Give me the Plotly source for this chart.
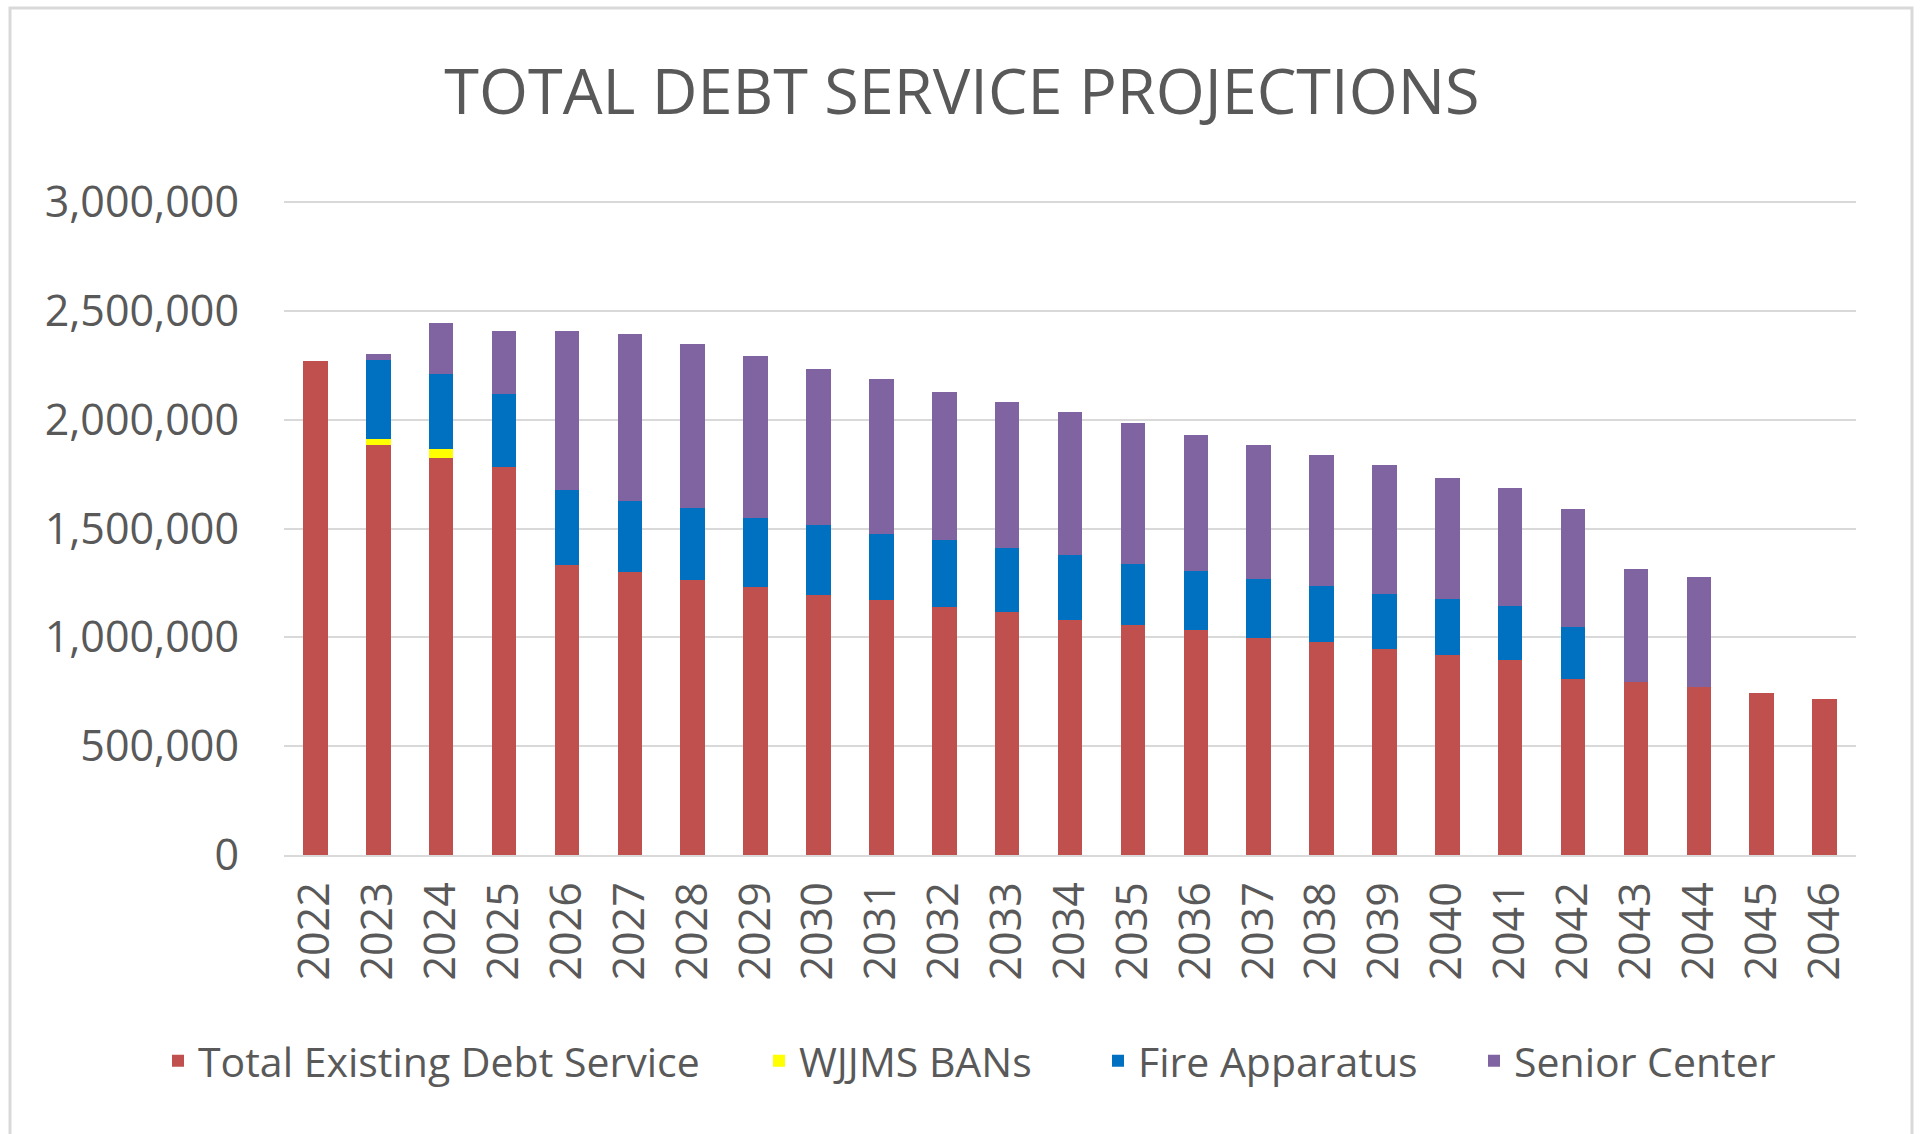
import plotly.graph_objects as go

years = [str(y) for y in range(2022, 2047)]

existing = [2270000, 1882000, 1825000, 1781000, 1333000, 1301000, 1265000, 1230000,
            1194000, 1173000, 1140000, 1116000, 1080000, 1055000, 1032000, 999000,
            977000, 948000, 917000, 894000, 810000, 795000, 772000, 742000, 719000]
wjjms = [0, 30000, 38000] + [0] * 22
fire = [0, 364000, 347000, 335000, 344000, 327000, 331000, 316000, 320000, 304000,
        305000, 295000, 298000, 283000, 272000, 269000, 258000, 252000, 257000,
        248000, 237000, 0, 0, 0, 0]
senior = [0, 27000, 233000, 290000, 729000, 767000, 753000, 746000, 720000, 711000,
          682000, 668000, 655000, 649000, 626000, 616000, 602000, 592000, 557000,
          543000, 543000, 517000, 505000, 0, 0]

series_names = ["Total Existing Debt Service", "WJJMS BANs", "Fire Apparatus", "Senior Center"]
series_vals = [existing, wjjms, fire, senior]
series_colors = ["#C0504D", "#FFFF00", "#0070C0", "#8064A2"]

tick_vals = [0, 500000, 1000000, 1500000, 2000000, 2500000, 3000000]
tick_text = ["0", "500,000", "1,000,000", "1,500,000", "2,000,000", "2,500,000", "3,000,000"]

FONT = "Open Sans"
GRAY = "#595959"
W, H = 1921, 1134
PL, PR, PT, PB = 284, 1856, 200, 855
PW, PH = PR - PL, PB - PT

legend_ids = ["legend", "legend2", "legend3", "legend4"]
legend_px = [158, 759, 1098, 1474]

fig = go.Figure()
for name, vals, col, lid in zip(series_names, series_vals, series_colors, legend_ids):
    fig.add_trace(go.Bar(x=years, y=vals, name=name, legend=lid,
                         marker=dict(color=col, line=dict(width=0))))

legend_common = dict(orientation="h", xanchor="left", y=(PB - 1061) / PH, yanchor="middle",
                     font=dict(family=FONT, size=41, color=GRAY), bgcolor="rgba(0,0,0,0)")
legends = {}
for lid, px in zip(legend_ids, legend_px):
    legends[lid] = dict(x=(px - PL) / PW, **legend_common)

y_top = 3000000 * PH / (PB - 202)

fig.update_layout(
    width=W, height=H,
    barmode="stack", bargap=0.61,
    paper_bgcolor="white", plot_bgcolor="white",
    margin=dict(l=PL, r=W - PR, t=PT, b=H - PB),
    font=dict(family=FONT, color=GRAY, size=42),
    title=dict(text="TOTAL DEBT SERVICE PROJECTIONS", x=962 / W, xref="container", xanchor="center",
               y=1 - 92 / H, yref="container", yanchor="middle",
               font=dict(family=FONT, size=63, color=GRAY)),
    showlegend=True,
    xaxis=dict(type="category", tickangle=-90, showgrid=False, showline=True,
               linecolor="#D9D9D9", linewidth=2, ticks="", ticklabelstandoff=8,
               tickfont=dict(family=FONT, size=43, color=GRAY)),
    yaxis=dict(range=[0, y_top], tickvals=tick_vals, ticktext=tick_text,
               showgrid=True, gridcolor="#D9D9D9", gridwidth=2, zeroline=False,
               showline=False, ticks="", ticklabelstandoff=44,
               tickfont=dict(family=FONT, size=43, color=GRAY)),
    **legends,
)
# outer border of chart
fig.add_shape(type="rect", xref="paper", yref="paper",
              x0=(10 - PL) / PW, x1=(1912 - PL) / PW,
              y0=(PB - 1140) / PH, y1=(PB - 8) / PH,
              line=dict(color="#D9D9D9", width=3), layer="below")

fig.write_html("out.html")
